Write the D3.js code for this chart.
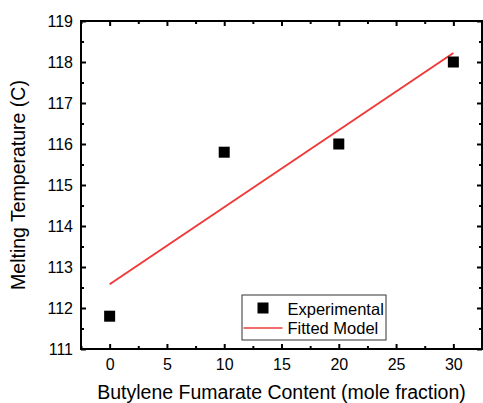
<!DOCTYPE html>
<html>
<head>
<meta charset="utf-8">
<script src="https://cdn.jsdelivr.net/npm/d3@7"></script>
<style>
  html, body { margin: 0; padding: 0; background: #fff; }
  svg { display: block; font-family: "Liberation Sans", Arial, sans-serif; }
</style>
</head>
<body>
<svg id="chart" width="483" height="403"></svg>
<script>
// Measured melting temperatures vs. butylene fumarate content
const contents = [0, 10, 20, 30];
const meltTemps = [111.8, 115.8, 116.0, 118.0];

// Linear fit endpoints
const fitContents = [0, 30];
const fitTemps = [112.58, 118.22];

// Axis ticks
const xMajorTicks = [0, 5, 10, 15, 20, 25, 30];
const xMinorTicks = [-2.5, 2.5, 7.5, 12.5, 17.5, 22.5, 27.5, 32.5];
const yMajorTicks = [111, 112, 113, 114, 115, 116, 117, 118, 119];
const yMinorTicks = [111.5, 112.5, 113.5, 114.5, 115.5, 116.5, 117.5, 118.5];

const legendLabels = ["Experimental", "Fitted Model"];
const xTitle = "Butylene Fumarate Content (mole fraction)";
const yTitle = "Melting Temperature (C)";

const svg = d3.select("#chart");
const plotLeft = 81, plotRight = 482, plotTop = 21, plotBottom = 349;

const x = d3.scaleLinear().domain([-2.5, 32.5]).range([plotLeft, plotRight]);
const y = d3.scaleLinear().domain([111, 119]).range([plotBottom, plotTop]);

const red = "#f03a3a";

function styleAxis(g) {
  g.select(".domain").remove();
  g.selectAll(".tick line").attr("stroke", "#000").attr("stroke-width", 2);
  g.selectAll(".tick text").attr("fill", "#000").style("font-size", "16px")
    .style("font-family", "'Liberation Sans', Arial, sans-serif");
}

// Bottom axis (labelled) and top axis (mirrored ticks)
svg.append("g").attr("transform", `translate(0,${plotBottom})`)
  .call(d3.axisBottom(x).tickValues(xMajorTicks).tickSize(-5).tickPadding(9.5).tickFormat(d3.format("d")))
  .call(styleAxis);
svg.append("g").attr("transform", `translate(0,${plotBottom})`)
  .call(d3.axisBottom(x).tickValues(xMinorTicks).tickSize(-3).tickFormat(""))
  .call(styleAxis);
svg.append("g").attr("transform", `translate(0,${plotTop})`)
  .call(d3.axisTop(x).tickValues(xMajorTicks).tickSize(-5).tickFormat(""))
  .call(styleAxis);
svg.append("g").attr("transform", `translate(0,${plotTop})`)
  .call(d3.axisTop(x).tickValues(xMinorTicks).tickSize(-3).tickFormat(""))
  .call(styleAxis);

// Left axis (labelled) and right axis (mirrored ticks)
svg.append("g").attr("transform", `translate(${plotLeft},0)`)
  .call(d3.axisLeft(y).tickValues(yMajorTicks).tickSize(-5).tickPadding(8).tickFormat(d3.format("d")))
  .call(styleAxis);
svg.append("g").attr("transform", `translate(${plotLeft},0)`)
  .call(d3.axisLeft(y).tickValues(yMinorTicks).tickSize(-3).tickFormat(""))
  .call(styleAxis);
svg.append("g").attr("transform", `translate(${plotRight},0)`)
  .call(d3.axisRight(y).tickValues(yMajorTicks).tickSize(-5).tickFormat(""))
  .call(styleAxis);
svg.append("g").attr("transform", `translate(${plotRight},0)`)
  .call(d3.axisRight(y).tickValues(yMinorTicks).tickSize(-3).tickFormat(""))
  .call(styleAxis);

// Plot frame
svg.append("rect")
  .attr("x", plotLeft).attr("y", plotTop)
  .attr("width", plotRight - plotLeft).attr("height", plotBottom - plotTop)
  .attr("fill", "none").attr("stroke", "#000").attr("stroke-width", 2);

// Fitted model line
const fitData = fitContents.map((c, i) => [c, fitTemps[i]]);
svg.append("path")
  .datum(fitData)
  .attr("d", d3.line().x(d => x(d[0])).y(d => y(d[1])))
  .attr("fill", "none").attr("stroke", red).attr("stroke-width", 2);

// Experimental points
const size = 11;
svg.append("g").selectAll("rect")
  .data(contents.map((c, i) => [c, meltTemps[i]]))
  .join("rect")
  .attr("x", d => x(d[0]) - size / 2)
  .attr("y", d => y(d[1]) - size / 2)
  .attr("width", size).attr("height", size)
  .attr("fill", "#000");

// Legend
const lg = svg.append("g");
lg.append("rect")
  .attr("x", 242).attr("y", 295).attr("width", 144).attr("height", 45)
  .attr("fill", "#fff").attr("stroke", "#333").attr("stroke-width", 1);
lg.append("rect")
  .attr("x", 263 - 5.5).attr("y", 308 - 5.5).attr("width", 11).attr("height", 11)
  .attr("fill", "#000");
lg.append("line")
  .attr("x1", 243.5).attr("x2", 282.5).attr("y1", 328).attr("y2", 328)
  .attr("stroke", red).attr("stroke-width", 1.5);
lg.selectAll("text")
  .data(legendLabels)
  .join("text")
  .attr("x", 287.5)
  .attr("y", (d, i) => 314.5 + i * 19)
  .style("font-size", "16.5px")
  .attr("fill", "#000")
  .text(d => d);

// Axis titles
svg.append("text")
  .attr("x", (plotLeft + plotRight) / 2).attr("y", 399)
  .attr("text-anchor", "middle")
  .style("font-size", "19.5px")
  .text(xTitle);
svg.append("text")
  .attr("transform", `translate(25,${(plotTop + plotBottom) / 2}) rotate(-90)`)
  .attr("text-anchor", "middle")
  .style("font-size", "19.5px")
  .text(yTitle);
</script>
</body>
</html>
